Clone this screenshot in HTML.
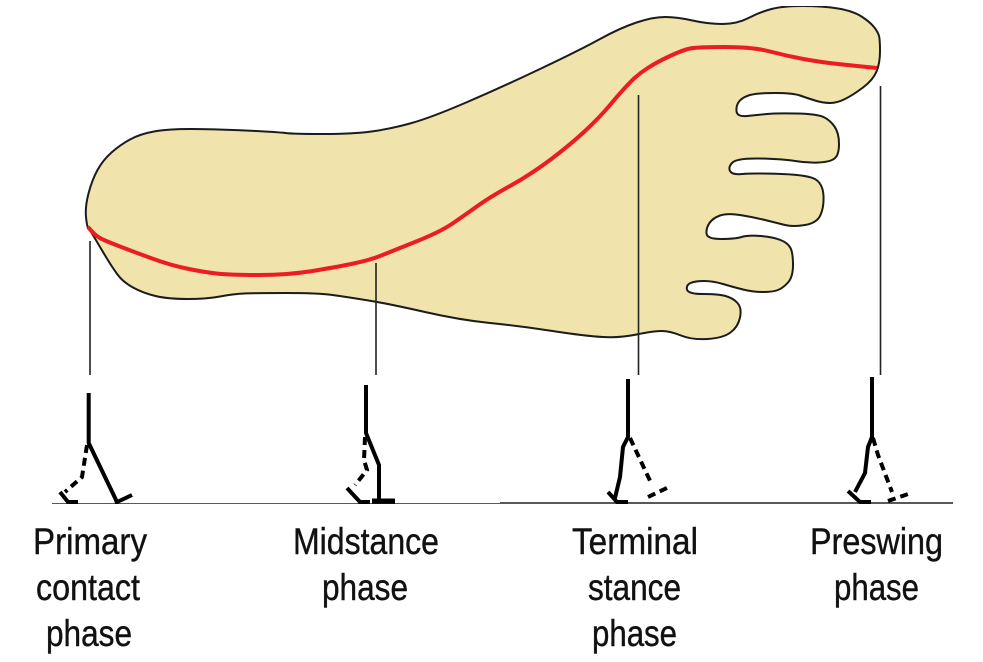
<!DOCTYPE html>
<html><head><meta charset="utf-8"><style>html,body{margin:0;padding:0;background:#fff}svg{display:block}text{font-family:"Liberation Sans",sans-serif;font-size:37px;fill:#111;stroke:#111;stroke-width:.4px}</style></head><body>
<svg width="983" height="662" viewBox="0 0 983 662" xmlns="http://www.w3.org/2000/svg">
<defs><filter id="s" x="0" y="0" width="100%" height="100%"><feGaussianBlur stdDeviation="0.35"/></filter></defs>
<g filter="url(#s)">
<path fill="#f0e3ac" stroke="#1a1a1a" stroke-width="2" stroke-linejoin="round" d="M86,217 Q85,207 88.5,193.5 Q92,180 97.5,170 Q103,160 111.5,152.5 Q120,145 130,139.5 Q140,134 154,131.5 Q168,129 190,129 Q212,129 245,130.5 Q278,132 285.5,133 Q293,134 323,134 Q353,134 371.5,131.5 Q390,129 410,123.5 Q430,118 465,103 Q500,88 540,69 Q580,50 600,39 Q620,28 636.5,22.5 Q653,17 665,17 Q677,17 692.5,20.5 Q708,24 722.5,24 Q737,24 748.5,18 Q760,12 771.5,9 Q783,6 803,6 Q823,6 838,8.5 Q853,11 861.5,16.5 Q870,22 874,27 Q878,32 879,36 Q880,40 880,51.5 Q880,63 876.5,71.5 Q873,80 863,87.5 Q853,95 845,99 Q837,103 830,103 Q823,103 815,100.5 Q807,98 800,95.5 Q793,93 775,93 Q757,93 750,95 Q743,97 739.5,101 Q736,105 736.5,111 Q737,117 747,116 Q757,115 767,114 Q777,113 797,113.5 Q817,114 823.5,117 Q830,120 834.5,126.5 Q839,133 839,144 Q839,155 834.5,158.5 Q830,162 818.5,162.5 Q807,163 795,161 Q783,159 760,158.5 Q737,158 732.5,162.5 Q728,167 730,171 Q732,175 742.5,174 Q753,173 781.5,174 Q810,175 816.5,180 Q823,185 823.5,196 Q824,207 820.5,215 Q817,223 805,225 Q793,227 785,225 Q777,223 765,220 Q753,217 740,215 Q727,213 720,215.5 Q713,218 709.5,223 Q706,228 706.5,233.5 Q707,239 721,239 Q735,239 741.5,237 Q748,235 760.5,236 Q773,237 780.5,240 Q788,243 790.5,248 Q793,253 793,265 Q793,277 788,282.5 Q783,288 778,290 Q773,292 763,292 Q753,292 743,289.5 Q733,287 723,284 Q713,281 704,281 Q695,281 690.5,283 Q686,285 687,289.5 Q688,294 703,294 Q718,294 725.5,296 Q733,298 737.5,303 Q742,308 740,317.5 Q738,327 730.5,332.5 Q723,338 707.5,339 Q692,340 681,335.5 Q670,331 661.5,331 Q653,331 636.5,334.5 Q620,338 602.5,337 Q585,336 552.5,331 Q520,326 490,323 Q460,320 425,312 Q390,304 368.5,300.5 Q347,297 332.5,295 Q318,293 286.5,293 Q255,293 244,293.5 Q233,294 220,296.5 Q207,299 187.5,299 Q168,299 155.5,296 Q143,293 133,287.5 Q123,282 117.5,274.5 Q112,267 106,257 Q100,247 95,238.5 Q90,230 88.5,228.5 Q87,227 86,217 Z"/>
<path fill="none" stroke="#ec1c24" stroke-width="4" stroke-linejoin="round" d="M88,227 L91.5,231 Q95,235 99,237.5 Q103,240 120,246.5 Q137,253 153.5,259 Q170,265 186.5,268.5 Q203,272 216.5,273.5 Q230,275 259,275 Q288,275 312.5,271 Q337,267 353.5,263.5 Q370,260 380,256 Q390,252 415,242 Q440,232 452.5,223.5 Q465,215 477.5,206 Q490,197 510,186 Q530,175 550,160 Q570,145 585,131 Q600,117 610,105 Q620,93 628.5,84 Q637,75 647,68.5 Q657,62 670,56 Q683,50 690,48.5 Q697,47 725,47 Q753,47 770,51.5 Q787,56 803.5,59 Q820,62 833.5,63.5 Q847,65 862,66.5 L877,68"/>
<g stroke="#222" stroke-width="1.6" fill="none">
<line x1="90" y1="241" x2="90" y2="375"/><line x1="376" y1="263" x2="376" y2="375"/><line x1="638.5" y1="95" x2="638.5" y2="375"/><line x1="880.5" y1="86" x2="880.5" y2="375"/>
<line x1="52" y1="504" x2="500" y2="504"/><line x1="500" y1="503" x2="953" y2="503"/>
</g>
<g fill="none" stroke="#000" stroke-width="4">
<polyline points="88.7,393 88.7,443 117,502"/><line x1="115" y1="503" x2="132" y2="495"/>
<polyline points="366,385 366,433 379,465 379,502"/><line x1="372" y1="501" x2="395" y2="501" stroke-width="5"/>
<polyline points="628,379 628,437 623,447 620,477 615,498"/><polyline points="608,492 617,502 628,502"/>
<polyline points="872,377 872,437 868,447 865,473 855,492"/><polyline points="848,491 860,502 871,502"/>
<polyline points="60,492 68,502 78,502"/><polyline points="347,488 360,502 370,502"/>
<g stroke-dasharray="8 5">
<polyline points="87,445 82,477 65,492"/><polyline points="365,437 364,460 367,470 355,485"/>
<line x1="630" y1="438" x2="652" y2="485"/><line x1="648" y1="497" x2="671" y2="486"/>
<polyline points="873,438 878,455 892,492"/><line x1="888" y1="501" x2="911" y2="493"/>
</g></g>
</g>
<text x="33" y="554" textLength="114" lengthAdjust="spacingAndGlyphs">Primary</text>
<text x="36" y="600" textLength="104" lengthAdjust="spacingAndGlyphs">contact</text>
<text x="46" y="646" textLength="86" lengthAdjust="spacingAndGlyphs">phase</text>
<text x="293" y="554" textLength="146" lengthAdjust="spacingAndGlyphs">Midstance</text>
<text x="322" y="600" textLength="86" lengthAdjust="spacingAndGlyphs">phase</text>
<text x="572" y="554" textLength="126" lengthAdjust="spacingAndGlyphs">Terminal</text>
<text x="588" y="600" textLength="93" lengthAdjust="spacingAndGlyphs">stance</text>
<text x="592" y="646" textLength="85" lengthAdjust="spacingAndGlyphs">phase</text>
<text x="810" y="554" textLength="133" lengthAdjust="spacingAndGlyphs">Preswing</text>
<text x="834" y="600" textLength="85" lengthAdjust="spacingAndGlyphs">phase</text>
</svg></body></html>
